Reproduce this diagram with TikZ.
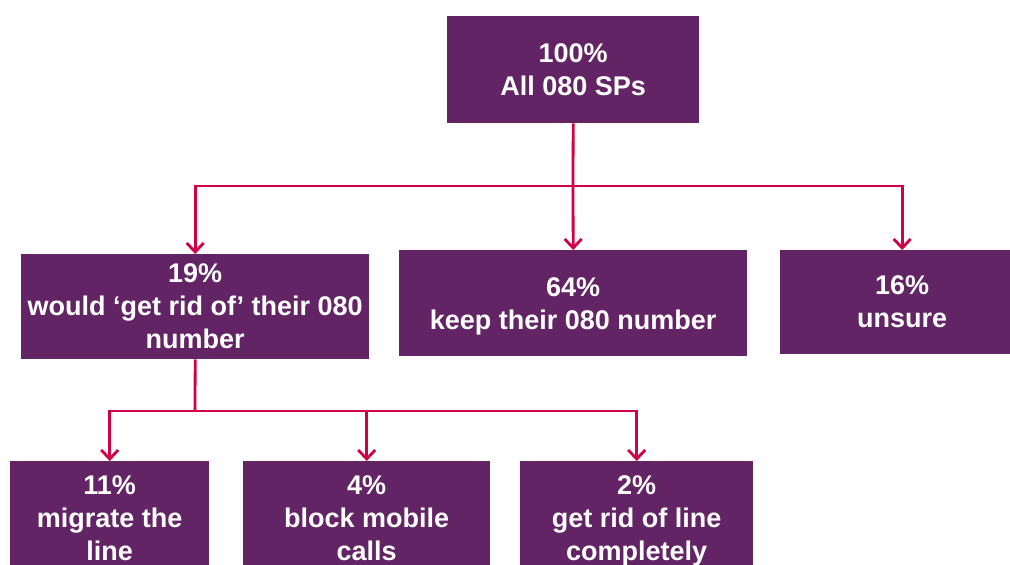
\documentclass[tikz,border=0pt]{standalone}
\usepackage{fontspec}
\setmainfont{Liberation Sans}
\usetikzlibrary{arrows.meta}
\definecolor{boxpurple}{RGB}{98,36,100}
\definecolor{linkred}{RGB}{208,0,72}
\begin{document}
\begin{tikzpicture}[x=1pt,y=-1pt,
  box/.style={fill=boxpurple, text=white, font=\fontsize{27}{33}\selectfont\bfseries,
    align=center, inner sep=0pt, anchor=north west},
  linkline/.style={draw=linkred, line width=2.8pt},
  link/.style={linkline, -{Straight Barb[length=9pt,width=17pt,line width=2.8pt]}}]
\clip (0,0) rectangle (1010,565);
\fill[white] (0,0) rectangle (1010,565);
\node[box, minimum width=252pt, minimum height=107pt] (top) at (447,16) {100\%\\All 080 SPs};
\node[box, minimum width=348pt, minimum height=105pt] (left) at (21,254) {19\%\\would ‘get rid of’ their 080\\number};
\node[box, minimum width=348pt, minimum height=106pt] (mid) at (399,250) {64\%\\\smash{keep their 080 number}};
\node[box, minimum width=244pt, minimum height=104pt] (right) at (780,250) {16\%\\unsure};
\node[box, minimum width=199pt, minimum height=114pt] (b1) at (10,461) {11\%\\migrate the\\line};
\node[box, minimum width=247pt, minimum height=114pt] (b2) at (243,461) {4\%\\block mobile\\calls};
\node[box, minimum width=233pt, minimum height=114pt] (b3) at (520,461) {2\%\\get rid of line\\\smash{completely}};
\coordinate (j1) at (573,186);
\coordinate (j2) at (195,411);
\draw[linkline] (top.south) -- (j1);
\draw[link] (j1) -| (left.north);
\draw[link] (j1) -- (mid.north);
\draw[link] (j1) -| (right.north);
\draw[linkline] (left.south) -- (j2);
\draw[link] (j2) -| (b1.north);
\draw[link] (j2) -| (b2.north);
\draw[link] (j2) -| (b3.north);
\end{tikzpicture}
\end{document}
